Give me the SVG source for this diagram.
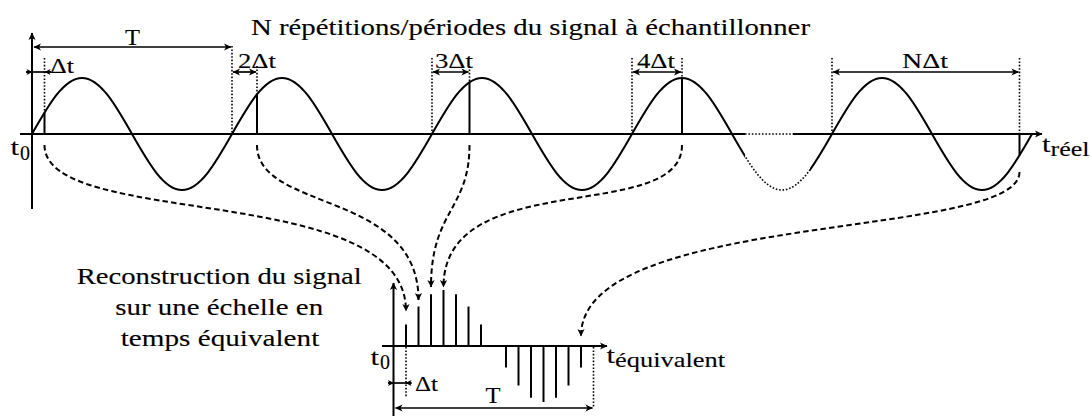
<svg xmlns="http://www.w3.org/2000/svg" xmlns:xlink="http://www.w3.org/1999/xlink" width="1090" height="416" viewBox="0 0 1090 416">
<style>
.ln{stroke:#000;stroke-width:2;fill:none}
.dot{stroke:#000;stroke-width:1.6;stroke-dasharray:1.6 1.8;fill:none}
.dsh{stroke:#000;stroke-width:2;stroke-dasharray:5.5 3.2;fill:none}
.dim{stroke:#000;stroke-width:1.7;fill:none}
text{font-family:"Liberation Serif","Times New Roman",serif;fill:#000;stroke:#000;stroke-width:0.12;font-size:23px}
.lab{font-size:22px}
.t{font-size:23px}
.sub{font-size:21px}
.z{font-size:20px}
.T{font-size:24px}
</style>
<defs>
<marker id="ar" markerUnits="userSpaceOnUse" viewBox="-9 -5 10 10" refX="0" refY="0" markerWidth="10" markerHeight="10" orient="auto-start-reverse"><path d="M0.5,0 L-7,-3.6 L-5,0 L-7,3.6 Z" fill="#000"/></marker>
<marker id="as" markerUnits="userSpaceOnUse" viewBox="-7 -4 8 8" refX="0" refY="0" markerWidth="8" markerHeight="8" orient="auto"><path d="M0.5,0 L-5.5,-3 L-4,0 L-5.5,3 Z" fill="#000"/></marker>
<path id="sine" d="M32,134 c16.71,-29.4 31.99,-56 50,-56 c18.01,0 33.29,26.6 50,56 c16.71,29.4 31.99,56 50,56 c18.01,0 33.29,-26.6 50,-56 c16.71,-29.4 31.99,-56 50,-56 c18.01,0 33.29,26.6 50,56 c16.71,29.4 31.99,56 50,56 c18.01,0 33.29,-26.6 50,-56 c16.71,-29.4 31.99,-56 50,-56 c18.01,0 33.29,26.6 50,56 c16.71,29.4 31.99,56 50,56 c18.01,0 33.29,-26.6 50,-56 c16.71,-29.4 31.99,-56 50,-56 c18.01,0 33.29,26.6 50,56 c16.71,29.4 31.99,56 50,56 c18.01,0 33.29,-26.6 50,-56 c16.71,-29.4 31.99,-56 50,-56 c18.01,0 33.29,26.6 50,56 c16.71,29.4 31.99,56 50,56 c18.01,0 33.29,-26.6 50,-56"/>
<clipPath id="cL"><rect x="0" y="0" width="745" height="416"/></clipPath>
<clipPath id="cR"><rect x="810" y="0" width="280" height="416"/></clipPath>
<clipPath id="cM"><rect x="745" y="0" width="65" height="416"/></clipPath>
</defs>

<g id="title"><text x="251" y="35" textLength="559" lengthAdjust="spacingAndGlyphs">N répétitions/périodes du signal à échantillonner</text></g>

<g id="real-axes">
<path class="ln" d="M32,209 V33" marker-end="url(#ar)"/>
<path class="ln" d="M20,134 H745"/>
<path class="dot" d="M745,134 H793"/>
<path class="ln" d="M793,134 H1042" marker-end="url(#ar)"/>
<text class="t" x="10.5" y="155" textLength="8.5" lengthAdjust="spacingAndGlyphs">t</text><text class="z" x="20" y="160">0</text>
<text class="t" x="1042" y="152" textLength="8.5" lengthAdjust="spacingAndGlyphs">t</text><text class="sub" x="1050.5" y="155.5" textLength="39" lengthAdjust="spacingAndGlyphs">réel</text>
</g>

<g id="signal">
<use xlink:href="#sine" href="#sine" class="ln" clip-path="url(#cL)"/>
<use xlink:href="#sine" href="#sine" class="dot" clip-path="url(#cM)"/>
<use xlink:href="#sine" href="#sine" class="ln" clip-path="url(#cR)"/>
</g>

<g id="samples-real">
<path class="ln" d="M44.5,134 V112.6 M257,134 V94.4 M469.5,134 V82.3 M682,134 V78 M1019.5,134 V155.4"/>
<path class="dot" d="M44.5,58 V112 M232,46 V134 M257,66 V94 M432,58 V134 M469.5,66 V82 M632,58 V134 M682,58 V78 M832,58 V134 M1019.5,58 V134"/>
</g>

<g id="dims-real">
<path class="dim" d="M34,47 H231" marker-start="url(#ar)" marker-end="url(#ar)"/>
<text class="T" x="125" y="45" textLength="15" lengthAdjust="spacingAndGlyphs">T</text>
<path class="dim" d="M26,72 H51"/>
<path class="dim" d="M26,72 H32" marker-end="url(#as)"/>
<path class="dim" d="M51,72 H45" marker-end="url(#as)"/>
<text class="lab" x="50" y="72.5" textLength="24" lengthAdjust="spacingAndGlyphs">Δt</text>
<path class="dim" d="M233,72 H256" marker-start="url(#ar)" marker-end="url(#ar)"/>
<text class="lab" x="238" y="67.5" textLength="38" lengthAdjust="spacingAndGlyphs">2Δt</text>
<path class="dim" d="M433,72 H468.5" marker-start="url(#ar)" marker-end="url(#ar)"/>
<text class="lab" x="435" y="67.5" textLength="38" lengthAdjust="spacingAndGlyphs">3Δt</text>
<path class="dim" d="M633,72 H681" marker-start="url(#ar)" marker-end="url(#ar)"/>
<text class="lab" x="637" y="67.5" textLength="38" lengthAdjust="spacingAndGlyphs">4Δt</text>
<path class="dim" d="M833,72 H1018.5" marker-start="url(#ar)" marker-end="url(#ar)"/>
<text class="lab" x="902" y="67.5" textLength="46" lengthAdjust="spacingAndGlyphs">NΔt</text>
</g>

<g id="caption">
<text x="219.2" y="284" text-anchor="middle" textLength="285" lengthAdjust="spacingAndGlyphs">Reconstruction du signal</text>
<text x="219.2" y="315" text-anchor="middle" textLength="208" lengthAdjust="spacingAndGlyphs">sur une échelle en</text>
<text x="220" y="346" text-anchor="middle" textLength="198.6" lengthAdjust="spacingAndGlyphs">temps équivalent</text>
</g>

<g id="equiv-axes">
<path class="ln" d="M393.5,416 V283" marker-end="url(#ar)"/>
<path class="ln" d="M382,346 H607" marker-end="url(#ar)"/>
<text class="t" x="370.5" y="365" textLength="8.5" lengthAdjust="spacingAndGlyphs">t</text><text class="z" x="380" y="369">0</text>
<text class="t" x="606.5" y="363" textLength="8.5" lengthAdjust="spacingAndGlyphs">t</text><text class="sub" x="615" y="366.5" textLength="110" lengthAdjust="spacingAndGlyphs">équivalent</text>
</g>

<g id="samples-equiv">
<path class="ln" d="M406,346 V324.6 M418.5,346 V306.4 M431,346 V294.3 M443.5,346 V290 M456,346 V294.3 M468.5,346 V306.4 M481,346 V324.6 M506,346 V367.4 M518.5,346 V385.6 M531,346 V397.7 M543.5,346 V402 M556,346 V397.7 M568.5,346 V385.6 M581,346 V367.4"/>
<path class="dot" d="M406,347 V397 M593.5,347 V408"/>
</g>

<g id="dims-equiv">
<path class="dim" d="M388,383 H411.5"/>
<path class="dim" d="M388,383 H393.5" marker-end="url(#as)"/>
<path class="dim" d="M411.5,383 H406" marker-end="url(#as)"/>
<text class="lab" x="415" y="390.5" textLength="23" lengthAdjust="spacingAndGlyphs">Δt</text>
<path class="dim" d="M395.5,408 H592.5" marker-start="url(#ar)" marker-end="url(#ar)"/>
<text class="T" x="485.5" y="403" textLength="15" lengthAdjust="spacingAndGlyphs">T</text>
</g>

<g id="connectors">
<path class="dsh" d="M44.5,145 C44.5,230 406,180 406,311" marker-end="url(#ar)"/>
<path class="dsh" d="M257,145 C257,212 418.5,190 418.5,300" marker-end="url(#ar)"/>
<path class="dsh" d="M469.5,145 C469.5,210 431,210 431,287" marker-end="url(#ar)"/>
<path class="dsh" d="M682,145 C682,225 443.5,165 443.5,287" marker-end="url(#ar)"/>
<path class="dsh" d="M1019.5,172 C1019.5,240 581,210 581,336" marker-end="url(#ar)"/>
</g>
</svg>
